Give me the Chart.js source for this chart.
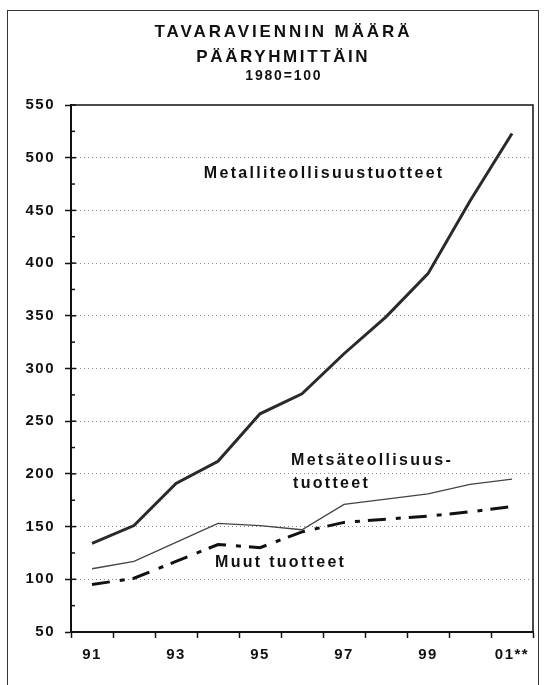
<!DOCTYPE html>
<html>
<head>
<meta charset="utf-8">
<script src="https://cdn.jsdelivr.net/npm/chart.js@4.4.1/dist/chart.umd.min.js"></script>
<style>
  html, body { margin: 0; padding: 0; background: #fff; }
  #wrap { position: relative; width: 547px; height: 685px; overflow: hidden; }
  #frame { position: absolute; left: 7px; top: 10px; width: 532px; height: 700px;
           border: 1.5px solid #333; box-sizing: border-box; }
  canvas { position: absolute; left: 0; top: 0; }
</style>
</head>
<body>
<div id="wrap">
  <div id="frame"></div>
  <canvas id="chart" width="547" height="685"></canvas>
</div>
<script>
// Vuodet ja sarjat (1980=100)
const vuodet = ['91', '92', '93', '94', '95', '96', '97', '98', '99', '00', '01**'];
const metalli = [134, 151, 191, 212, 257, 276, 314, 349, 390, 459, 523];
const metsa = [110, 117, 135, 153, 151, 147, 171, 176, 181, 190, 195];
const muut = [95, 101, 117, 133, 130, 145, 154, 157, 160, 164, 169];

const yMin = 50;
const yMax = 550;
const yStep = 25;

const fontFamily = "'Liberation Sans', Arial, Helvetica, sans-serif";

function piirraTeksti(ctx, teksti, x, y, koko, vali, align) {
    ctx.save();
    ctx.font = "bold " + koko + "px " + fontFamily;
    ctx.letterSpacing = vali + "px";
    ctx.fillStyle = "#111";
    ctx.textBaseline = "middle";
    let w = ctx.measureText(teksti).width - vali;
    let x0 = x;
    if (align === "center") x0 = x - w / 2;
    ctx.textAlign = "left";
    ctx.fillText(teksti, x0, y);
    ctx.restore();
}

// Otsikot, sarjojen nimet ja kehys
const tekstit = {
    id: "tekstit",
    beforeDraw(chart) {
        chart.ctx.letterSpacing = "1.5px";
    },
    afterDraw(chart) {
        const ctx = chart.ctx;
        const a = chart.chartArea;

        // kehys ylä- ja oikealle
        ctx.save();
        ctx.setLineDash([]);
        ctx.strokeStyle = "#111";
        ctx.lineWidth = 1.5;
        ctx.beginPath();
        ctx.moveTo(a.left, a.top);
        ctx.lineTo(a.right, a.top);
        ctx.lineTo(a.right, a.bottom);
        ctx.stroke();

        // y-akselin sisäänpäin menevät merkit
        const y = chart.scales.y;
        for (let v = yMin; v <= yMax; v += yStep) {
            const py = y.getPixelForValue(v);
            const len = v % 50 === 0 ? 5 : 4;
            ctx.beginPath();
            ctx.moveTo(a.left, py);
            ctx.lineTo(a.left + len, py);
            ctx.stroke();
        }
        // akselit
        ctx.lineWidth = 2;
        ctx.beginPath();
        ctx.moveTo(a.left, a.top);
        ctx.lineTo(a.left, a.bottom);
        ctx.lineTo(a.right, a.bottom);
        ctx.stroke();
        ctx.restore();

        piirraTeksti(ctx, "TAVARAVIENNIN MÄÄRÄ", 282, 32, 17, 2.9, "center");
        piirraTeksti(ctx, "PÄÄRYHMITTÄIN", 282, 57, 17, 2.6, "center");
        piirraTeksti(ctx, "1980=100", 283, 76, 14, 1.8, "center");

        piirraTeksti(ctx, "Metalliteollisuustuotteet", 323, 174, 16, 2.3, "center");
        piirraTeksti(ctx, "Metsäteollisuus-", 291, 461, 16, 2.3, "left");
        piirraTeksti(ctx, "tuotteet", 293, 484, 16, 2.3, "left");
        piirraTeksti(ctx, "Muut tuotteet", 215, 563, 16, 2.3, "left");
    }
};

new Chart(document.getElementById("chart"), {
    type: "line",
    data: {
        labels: vuodet,
        datasets: [
            {
                label: "Metalliteollisuustuotteet",
                data: metalli,
                borderColor: "#2a2a2a",
                borderWidth: 3,
                pointRadius: 0,
                tension: 0
            },
            {
                label: "Metsäteollisuustuotteet",
                data: metsa,
                borderColor: "#444",
                borderWidth: 1.3,
                pointRadius: 0,
                tension: 0
            },
            {
                label: "Muut tuotteet",
                data: muut,
                borderColor: "#111",
                borderWidth: 3,
                borderDash: [18, 10, 5, 8],
                pointRadius: 0,
                tension: 0
            }
        ]
    },
    options: {
        responsive: false,
        animation: false,
        layout: { padding: { top: 105, right: 14, left: 0, bottom: 0 } },
        plugins: {
            legend: { display: false },
            tooltip: { enabled: false }
        },
        scales: {
            x: {
                type: "category",
                offset: true,
                afterFit(scale) { scale.height = 53; },
                grid: {
                    offset: true,
                    drawOnChartArea: false,
                    drawTicks: true,
                    tickLength: 6,
                    tickColor: "#111",
                    tickWidth: 1.5
                },
                border: { color: "#111", width: 2 },
                ticks: {
                    autoSkip: false,
                    maxRotation: 0,
                    padding: 8,
                    color: "#111",
                    font: { family: fontFamily, size: 15, weight: "bold" },
                    callback: (val, i) => (i % 2 === 0 ? vuodet[i] : "")
                }
            },
            y: {
                min: yMin,
                max: yMax,
                afterFit(scale) { scale.width = 71; },
                grid: {
                    drawTicks: true,
                    tickLength: 6,
                    tickWidth: 1.5,
                    tickBorderDash: [],
                    tickColor: ctx => (ctx.tick && ctx.tick.value % 50 === 0 ? "#111" : "rgba(0,0,0,0)"),
                    color: ctx => {
                        const v = ctx.tick ? ctx.tick.value : 0;
                        if (v % 50 !== 0 || v === yMin || v === yMax) return "rgba(0,0,0,0)";
                        return "#8a8a8a";
                    },
                    lineWidth: 1
                },
                // v4: border.dash koskee ruudukon viivoja
                border: { color: "#111", width: 2, dash: [1, 3] },
                ticks: {
                    stepSize: yStep,
                    padding: 10,
                    color: "#111",
                    font: { family: fontFamily, size: 15, weight: "bold" },
                    callback: v => (v % 50 === 0 ? v : "")
                }
            }
        }
    },
    plugins: [tekstit]
});
</script>
</body>
</html>
